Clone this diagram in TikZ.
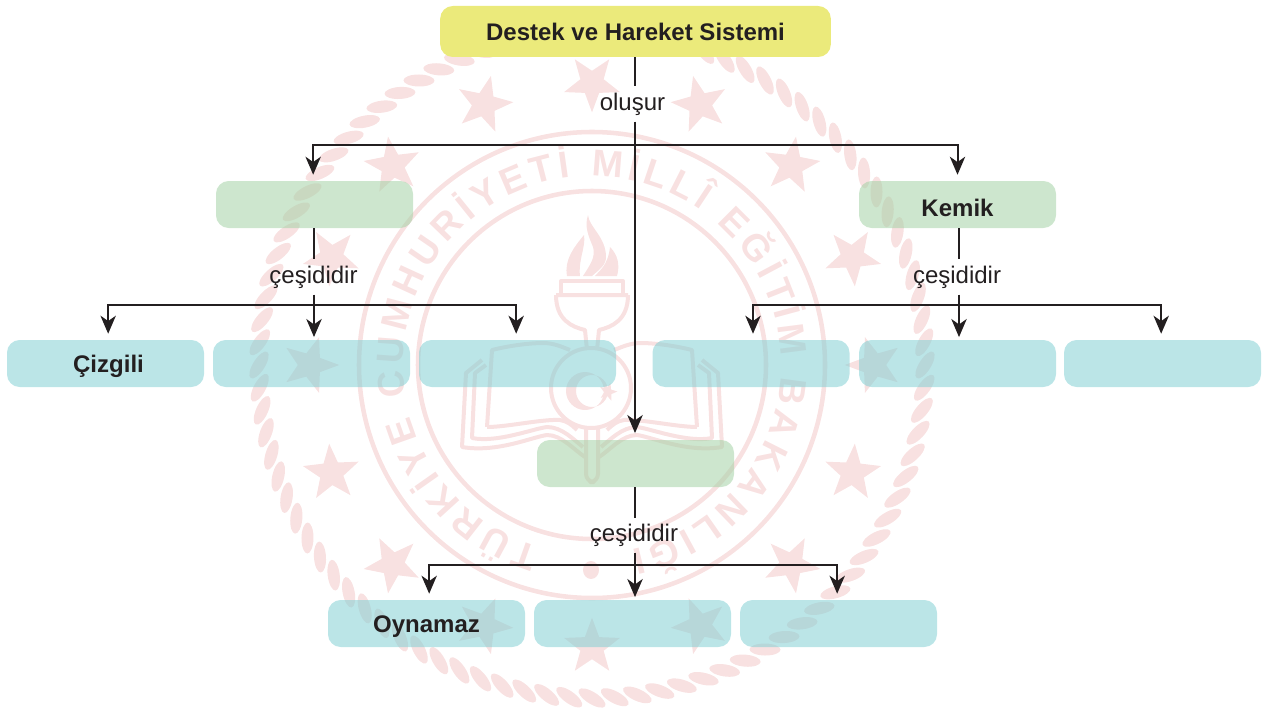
\documentclass[tikz,border=0pt]{standalone}
\usepackage{fontspec}
\setmainfont{Liberation Sans}
\usetikzlibrary{arrows.meta,shapes.geometric,decorations.text}
\definecolor{sealpink}{HTML}{F8E1E1}
\definecolor{inkblack}{HTML}{231F20}
\definecolor{boxyellow}{HTML}{EBEA7B}
\definecolor{boxgreen}{HTML}{A4D2A6}
\definecolor{boxcyan}{HTML}{83D0D4}
\tikzset{
  box/.style={rounded corners=9.5pt, minimum width=147.75pt, minimum height=35.25pt, inner sep=0pt,
    font=\fontsize{18}{20}\selectfont\bfseries, text=inkblack, text height=13pt, text depth=0pt,
    fill opacity=.55, text opacity=1},
  topbox/.style={box, fill=boxyellow, fill opacity=1, minimum width=293pt, minimum height=38.25pt},
  greenbox/.style={box, fill=boxgreen},
  cyanbox/.style={box, fill=boxcyan},
  verb/.style={font=\fontsize{18}{20}\selectfont, text=inkblack, inner sep=4.5pt},
  stem/.style={draw=inkblack, line width=1.5pt},
  branch/.style={stem, -{Stealth[length=13.5pt,width=11.5pt,inset=4pt]}, shorten >=4.5pt},
  sealline/.style={draw=sealpink, line width=3pt, line join=round},
  sealstar/.style={star, star points=5, star point ratio=2.4, fill=sealpink, minimum size=44pt, inner sep=0pt}
}

\begin{document}
\begin{tikzpicture}[x=0.75pt, y=-0.75pt]
  \useasboundingbox (0,0) rectangle (1269,713);

  % seal
  \begin{scope}[shift={(592,365)}]
    \foreach \i in {1,...,92} {
      \pgfmathsetmacro{\a}{\i*3.91304}
      \fill[sealpink, shift={(\a:333)}, rotate=58-\a] (0,0) ellipse (15.5 and 6);
    }
    \foreach \a in {0,22.5,...,337.5} {
      \node[sealstar, rotate=90-\a] at (\a:282) {};
    }
    \draw[sealline, line width=3.4pt] (0,0) circle (233);
    \draw[sealline, line width=3.4pt] (0,0) circle (174);
    \path[decorate, decoration={text along path, text align={fit to path},
        text={|\color{sealpink}\fontsize{28}{28}\selectfont\bfseries|TÜRKİYE CUMHURİYETİ MİLLÎ EĞİTİM BAKANLIĞI}}]
      (106:189) arc[start angle=106, end angle=438, radius=189];
    \fill[sealpink] (-1,205) ellipse (8 and 9);
    % torch
    \fill[sealpink] (-25,-89) .. controls (-28,-105) and (-18,-118) .. (-8,-130)
      .. controls (-6,-118) and (-14,-105) .. (-12,-89) -- cycle;
    \fill[sealpink] (-9,-89) .. controls (-2,-100) and (4,-108) .. (1,-118)
      .. controls (-3,-128) and (-8,-138) .. (-4,-150)
      .. controls (-3,-138) and (14,-128) .. (14,-108)
      .. controls (14,-100) and (8,-96) .. (0,-89) -- cycle;
    \fill[sealpink] (3,-89) .. controls (8,-95) and (16,-100) .. (18,-118)
      .. controls (26,-110) and (28,-100) .. (25,-89) -- cycle;
    \draw[sealline] (-31,-84) rectangle (31,-70);
    \draw[sealline] (-36,-70) .. controls (-36,-45) and (-20,-38) .. (-7,-35) -- (-5,-15)
      (36,-70) .. controls (36,-45) and (20,-38) .. (7,-35) -- (5,-15) (-36,-70) -- (36,-70);
    \draw[sealline] (-1,23) circle (40);
    \fill[sealpink, even odd rule] (-7,26) circle (19) (0,26) circle (16);
    \node[star, star points=5, star point ratio=2.4, fill=sealpink, minimum size=14pt, inner sep=0pt, rotate=-15] at (16,27) {};
    \draw[sealline, rounded corners=6pt] (-6,64) -- (-6,117) -- (6,117) -- (6,64);
    % book
    \foreach \s in {1,-1} {
      \begin{scope}[xscale=\s]
        \draw[sealline] (-110,-5) -- (-126,8) -- (-130,82) .. controls (-95,88) and (-60,72) .. (-45,70) .. controls (-30,70) and (-18,85) .. (-7,92);
        \draw[sealline] (-106,0) -- (-117,8) -- (-120,73) .. controls (-95,78) and (-60,64) .. (-45,62) .. controls (-30,62) and (-18,75) .. (-9,82);
        \draw[sealline] (-105,62) -- (-100,-15) .. controls (-80,-20) and (-60,-22) .. (-49,-22) .. controls (-38,-22) and (-30,-18) .. (-22,-15);
        \draw[sealline] (-105,62) .. controls (-85,62) and (-50,54) .. (-32,55) .. controls (-25,56) and (-20,60) .. (-15,65);
      \end{scope}
    }
  \end{scope}

  \node[topbox] (system) at (635.5,31.5) {Destek ve Hareket Sistemi};

  \node[greenbox] (boneA) at (314.5,204.5) {};
  \node[greenbox, text height=17.5pt] (bone) at (957.5,204.5) {Kemik};
  \node[greenbox] (boneC) at (635.5,463.5) {};

  \node[cyanbox] (striated) at (105.5,363.5) {\hspace*{4.5pt}Çizgili};
  \node[cyanbox] (cellB) at (311.5,363.5) {};
  \node[cyanbox] (cellC) at (517.5,363.5) {};
  \node[cyanbox] (typeA) at (751,363.5) {};
  \node[cyanbox] (typeB) at (957.5,363.5) {};
  \node[cyanbox] (typeC) at (1162.5,363.5) {};
  \node[cyanbox] (fixed) at (426.5,623.5) {Oynamaz};
  \node[cyanbox] (jointB) at (632.5,623.5) {};
  \node[cyanbox] (jointC) at (838.5,623.5) {};

  \node[verb] (made) at (632.5,104) {oluşur};
  \node[verb] (kindA) at (313.5,277) {çeşididir};
  \node[verb] (kindB) at (957,277) {çeşididir};
  \node[verb] (kindC) at (634,535) {çeşididir};

  \coordinate (forkMain) at (635,145);
  \coordinate (forkA) at (314,305);
  \coordinate (forkB) at (959,305);
  \coordinate (forkC) at (635,565);

  \draw[stem] (system.south -| forkMain) -- (made.north -| forkMain);
  \draw[stem] (made.south -| forkMain) -- (forkMain);
  \draw[branch] (forkMain) -| ([xshift=-1pt]boneA.north);
  \draw[branch] (forkMain) -| (bone.north);
  \draw[branch, shorten >=5pt] (forkMain) -- (boneC.north -| forkMain);

  \draw[stem] (boneA.south -| forkA) -- (kindA.north -| forkA);
  \draw[stem] (kindA.south -| forkA) -- (forkA);
  \draw[branch] (forkA) -| ([xshift=2pt]striated.north);
  \draw[branch, shorten >=2pt] (forkA) -- (cellB.north -| forkA);
  \draw[branch] (forkA) -| ([xshift=-1pt]cellC.north);

  \draw[stem] (bone.south -| forkB) -- (kindB.north -| forkB);
  \draw[stem] (kindB.south -| forkB) -- (forkB);
  \draw[branch] (forkB) -| ([xshift=1.5pt]typeA.north);
  \draw[branch, shorten >=2pt] (forkB) -- (typeB.north -| forkB);
  \draw[branch] (forkB) -| ([xshift=-1pt]typeC.north);

  \draw[stem] (boneC.south -| forkC) -- (kindC.north -| forkC);
  \draw[stem] (kindC.south -| forkC) -- (forkC);
  \draw[branch] (forkC) -| ([xshift=2pt]fixed.north);
  \draw[branch, shorten >=2pt] (forkC) -- (jointB.north -| forkC);
  \draw[branch] (forkC) -| ([xshift=-1pt]jointC.north);
\end{tikzpicture}
\end{document}
